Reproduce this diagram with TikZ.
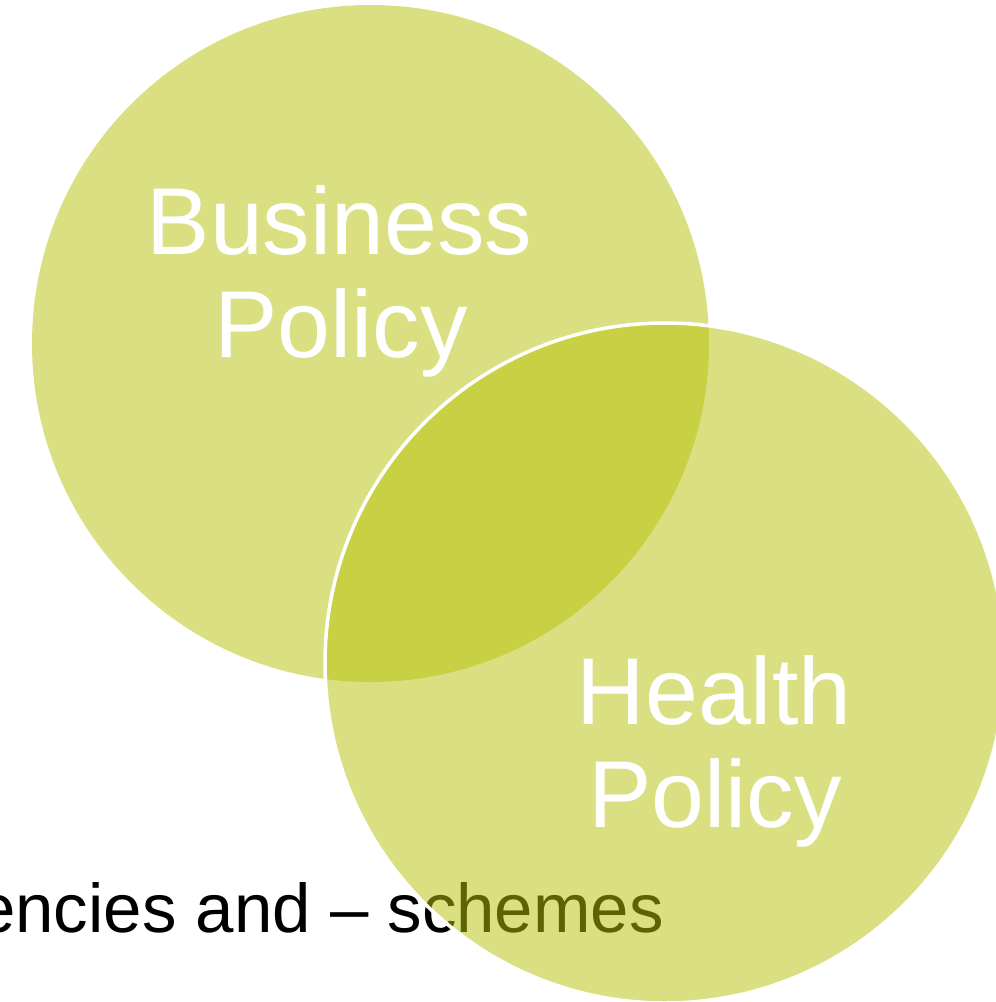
\documentclass[tikz,border=0pt]{standalone}
\usepackage{fontspec}
\setmainfont{Liberation Sans}
\definecolor{venn}{RGB}{183,193,8}
\begin{document}
\begin{tikzpicture}[x=1pt,y=-1pt,
  vcircle/.style={fill=venn,fill opacity=0.51},
  biglabel/.style={text=white,anchor=base,inner sep=0pt,font=\fontsize{95}{103}\selectfont},
  bodytext/.style={text=black,anchor=base east,inner sep=0pt,font=\fontsize{69}{80}\selectfont}]
\useasboundingbox (0,0) rectangle (996,1002);
\clip (0,0) rectangle (996,1002);
\node[bodytext] (body) at (664,932) {encies and – schemes};
\fill[vcircle] (370.5,343.5) circle[radius=338.5];
\path[vcircle,draw=white,draw opacity=1,line width=3.5pt] (665,663) circle[radius=340];
\node[biglabel] (bus1) at (339.5,254) {Business};
\node[biglabel] (bus2) at (341,357) {Policy};
\node[biglabel] (hea1) at (714,724) {Health};
\node[biglabel] (hea2) at (715,827) {Policy};
\end{tikzpicture}
\end{document}
